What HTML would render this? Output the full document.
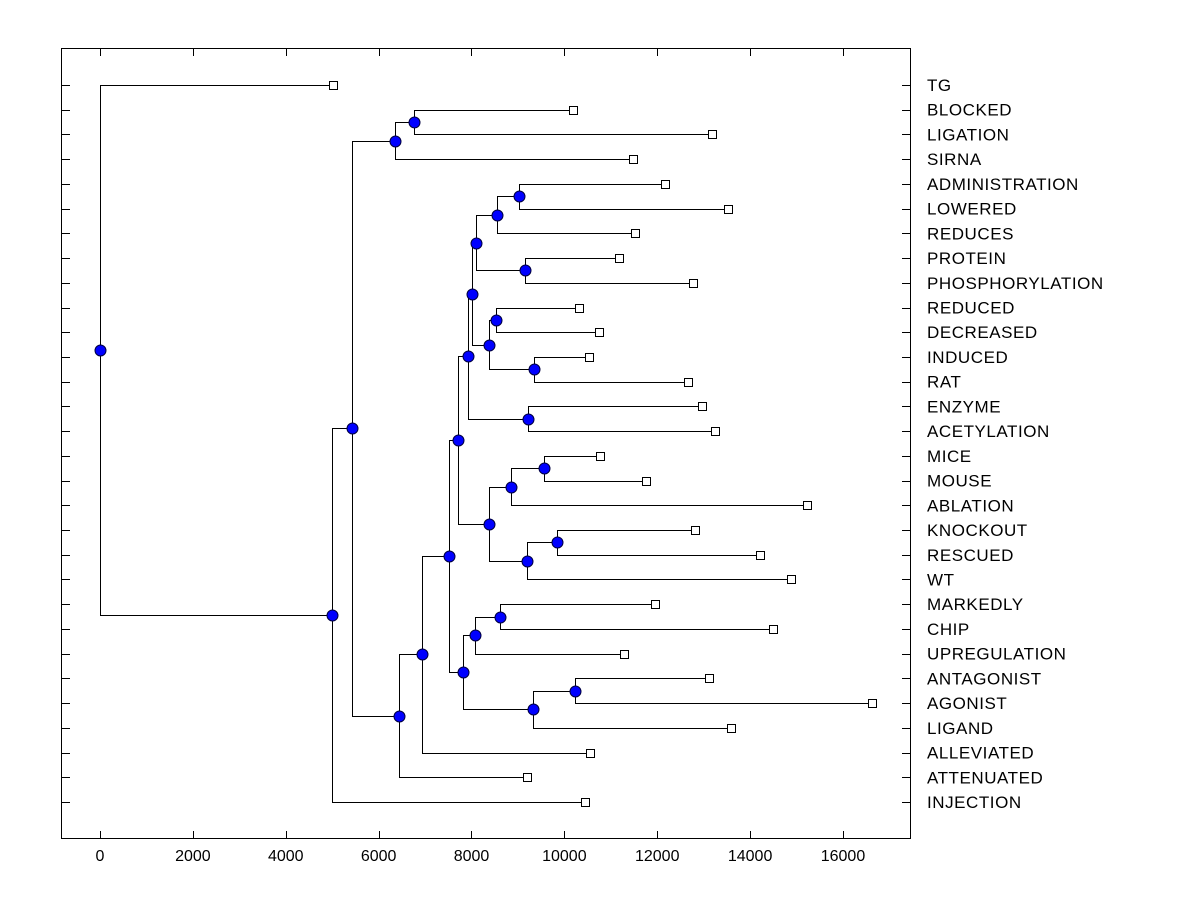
<!DOCTYPE html>
<html><head><meta charset="utf-8"><style>
html,body{margin:0;padding:0;background:#fff;}
svg{display:block;font-family:"Liberation Sans",Arial,sans-serif;}
</style></head><body>
<svg id="chart" width="1200" height="900">
<rect x="61.5" y="48.5" width="849" height="790" fill="none" stroke="#000" stroke-width="1"/>
</svg>
<script>
const leafNames = ["TG","BLOCKED","LIGATION","SIRNA","ADMINISTRATION","LOWERED","REDUCES","PROTEIN","PHOSPHORYLATION","REDUCED","DECREASED","INDUCED","RAT","ENZYME","ACETYLATION","MICE","MOUSE","ABLATION","KNOCKOUT","RESCUED","WT","MARKEDLY","CHIP","UPREGULATION","ANTAGONIST","AGONIST","LIGAND","ALLEVIATED","ATTENUATED","INJECTION"];
const leafValues = [5020,10185,13178,11477,12166,13523,11520,11176,12769,10314,10745,10530,12662,12963,13243,10767,11757,15224,12812,14212,14880,11951,14492,11283,13114,16624,13587,10551,9195,10444];
// internal nodes: [id, height, child1, child2]; children are leaf names or node ids
const nodeIds = ["root","N1","N2","A","A1","B","B1","B2","C","C1","C3","C4","C6","C8","C7","C5","C9","C10","E","C2","F","F1","G","G1","D","D1","D3","D2","D4"];
const nodeHeights = [0,5000,5426,6352,6762,6438,6934,7515,7709,7924,8010,8096,8549,9022,9152,8376,8527,9345,9216,8376,8850,9561,9195,9841,7817,8075,8613,9324,10228];
const nodeChildren = [["TG","N1"],["N2","INJECTION"],["A","B"],["A1","SIRNA"],["BLOCKED","LIGATION"],["B1","ATTENUATED"],["B2","ALLEVIATED"],["C","D"],["C1","C2"],["C3","E"],["C4","C5"],["C6","C7"],["C8","REDUCES"],["ADMINISTRATION","LOWERED"],["PROTEIN","PHOSPHORYLATION"],["C9","C10"],["REDUCED","DECREASED"],["INDUCED","RAT"],["ENZYME","ACETYLATION"],["F","G"],["F1","ABLATION"],["MICE","MOUSE"],["G1","WT"],["KNOCKOUT","RESCUED"],["D1","D2"],["D3","UPREGULATION"],["MARKEDLY","CHIP"],["D4","LIGAND"],["ANTAGONIST","AGONIST"]];
const xTicks = [0,2000,4000,6000,8000,10000,12000,14000,16000];

const svg = document.getElementById('chart');
const NS = "http://www.w3.org/2000/svg";
const xs = v => 100 + v * 0.046437;
const rowY = i => 85 + i * 24.724;
function mk(tag, attrs){const e=document.createElementNS(NS,tag);for(const k in attrs)e.setAttribute(k,attrs[k]);svg.appendChild(e);return e;}

xTicks.forEach(t=>{
  const x = Math.round(xs(t))+0.5;
  let l=mk('line',{x1:x,x2:x,y1:838,y2:831,stroke:'#000'});
  
  
  l=mk('line',{x1:x,x2:x,y1:49,y2:56,stroke:'#000'});
  
  
  const tx=mk('text',{x:xs(t),y:861,'text-anchor':'middle','font-size':'16',fill:'#000'});
  tx.textContent=t;
  
  
});
leafNames.forEach((n,i)=>{
  const y=Math.round(rowY(i))+0.5;
  let l=mk('line',{x1:62,x2:70,y1:y,y2:y,stroke:'#000'});
  
  
  l=mk('line',{x1:902,x2:910,y1:y,y2:y,stroke:'#000'});
  
  
  const tx=mk('text',{x:927,y:rowY(i)+6,'font-size':'17','letter-spacing':'0.55',fill:'#000'});
  tx.textContent=n;
  
  
});

const pos={};
leafNames.forEach((n,i)=>{pos[n]={x:xs(leafValues[i]),y:rowY(i),leaf:true};});
function resolve(id){
  if(pos[id])return pos[id];
  const k=nodeIds.indexOf(id);
  const a=resolve(nodeChildren[k][0]), b=resolve(nodeChildren[k][1]);
  pos[id]={x:xs(nodeHeights[k]),y:(a.y+b.y)/2,leaf:false};
  return pos[id];
}
nodeIds.forEach(resolve);
const r=v=>Math.round(v)+0.5;
nodeIds.forEach((id,k)=>{
  const p=pos[id];
  const a=pos[nodeChildren[k][0]], b=pos[nodeChildren[k][1]];
  const path=mk('path',{d:`M${r(a.x)},${r(a.y)}H${r(p.x)}V${r(b.y)}H${r(b.x)}`,fill:'none',stroke:'#000','stroke-width':1});
  
  
});
leafNames.forEach(n=>{
  const p=pos[n];
  const s=mk('rect',{x:r(p.x)-4,y:r(p.y)-4,width:8,height:8,fill:'#fff',stroke:'#000'});
  
  
});
nodeIds.forEach(id=>{
  const p=pos[id];
  const c=mk('circle',{cx:r(p.x),cy:r(p.y),r:5.5,fill:'#0000ff',stroke:'#000040','stroke-width':1});
  
  
});
</script>
</body></html>
